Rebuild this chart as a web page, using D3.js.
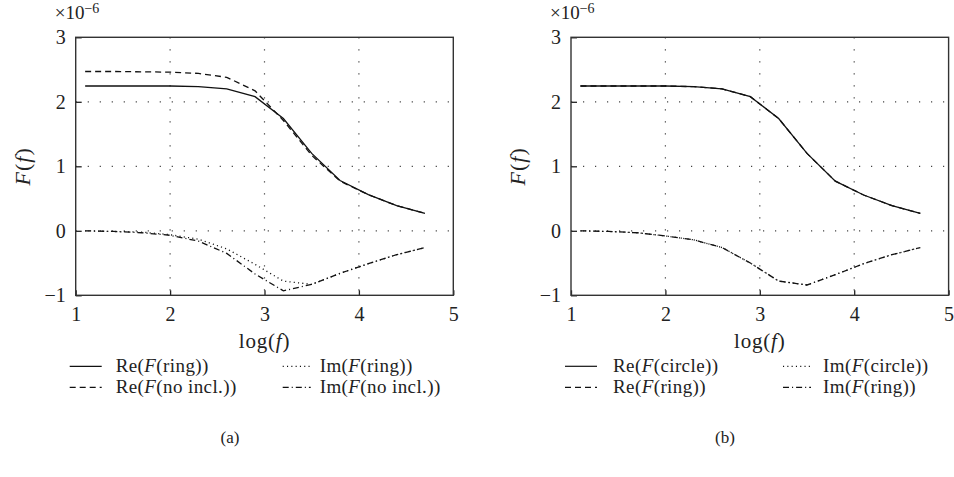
<!DOCTYPE html>
<html>
<head>
<meta charset="utf-8">
<script src="https://cdn.jsdelivr.net/npm/d3@7"></script>
<style>
  body { margin: 0; background: #fff; }
  svg { font-family: "Liberation Serif", "DejaVu Serif", serif; }
</style>
</head>
<body>
<div class="chart"></div>
<script>
// log(f) sample points, same for every curve
var logF = [1.1, 1.4, 1.7, 2.0, 2.3, 2.6, 2.9, 3.2, 3.5, 3.8, 4.1, 4.4, 4.7];

// panel (a), values in units of 1e-6
var reRing    = [2.245, 2.245, 2.245, 2.245, 2.235, 2.20, 2.08, 1.74, 1.20, 0.78, 0.56, 0.39, 0.27];
var imRing    = [0.0, -0.01, -0.02, -0.06, -0.13, -0.28, -0.52, -0.78, -0.83, -0.66, -0.51, -0.37, -0.26];
var reNoIncl  = [2.47, 2.47, 2.465, 2.46, 2.44, 2.38, 2.17, 1.71, 1.17, 0.77, 0.56, 0.39, 0.27];
var imNoIncl  = [0.0, -0.01, -0.03, -0.07, -0.16, -0.35, -0.67, -0.93, -0.83, -0.66, -0.51, -0.37, -0.26];

// panel (b)
var reCircle  = [2.245, 2.245, 2.245, 2.245, 2.235, 2.20, 2.08, 1.74, 1.20, 0.77, 0.555, 0.39, 0.27];
var imCircle  = [0.0, -0.01, -0.03, -0.08, -0.14, -0.26, -0.50, -0.78, -0.84, -0.68, -0.51, -0.37, -0.26];
var reRingB   = [2.245, 2.245, 2.245, 2.245, 2.235, 2.20, 2.08, 1.74, 1.20, 0.77, 0.555, 0.39, 0.27];
var imRingB   = [0.0, -0.01, -0.03, -0.08, -0.14, -0.26, -0.50, -0.78, -0.84, -0.68, -0.51, -0.37, -0.26];

var xTicks = [1, 2, 3, 4, 5];
var yTicks = [-1, 0, 1, 2, 3];

var Width = 954, Height = 477;
var plotW = 377.6, plotH = 258;

// line styles
var styles = {
  solid:   null,
  dashed:  "6,4",
  dotted:  "1.1,3.2",
  dashdot: "6,3,1.1,3"
};

var svg = d3.select(".chart").append("svg")
    .attr("width", Width)
    .attr("height", Height);

// italic helper: parts is list of [text, italic]
function richText(sel, parts) {
  parts.forEach(function(p) {
    sel.append("tspan")
      .style("font-style", p[1] ? "italic" : "normal")
      .text(p[0]);
  });
}

function drawPanel(left, top, series, legendCols, caption) {
  var g = svg.append("g")
      .attr("transform", "translate(" + left + "," + top + ")");

  var x = d3.scaleLinear().domain([1, 5]).range([0, plotW]);
  var y = d3.scaleLinear().domain([-1, 3]).range([plotH, 0]);

  // dotted grid
  g.selectAll(".gx").data([2, 3, 4]).enter().append("line")
    .attr("x1", d => x(d)).attr("x2", d => x(d))
    .attr("y1", 0).attr("y2", plotH)
    .attr("stroke", "#444").attr("stroke-width", 1.2)
    .attr("stroke-dasharray", "1.2,10.8");
  g.selectAll(".gy").data([0, 1, 2]).enter().append("line")
    .attr("x1", 0).attr("x2", plotW)
    .attr("y1", d => y(d)).attr("y2", d => y(d))
    .attr("stroke", "#444").attr("stroke-width", 1.2)
    .attr("stroke-dasharray", "1.2,10.8");

  // axes with inward ticks
  var xAxis = g.append("g")
    .attr("transform", "translate(0," + plotH + ")")
    .call(d3.axisBottom(x).tickValues(xTicks).tickSizeInner(-5).tickSizeOuter(0).tickPadding(12)
      .tickFormat(d3.format("d")));
  var yAxis = g.append("g")
    .call(d3.axisLeft(y).tickValues(yTicks).tickSizeInner(-6).tickSizeOuter(0).tickPadding(10)
      .tickFormat(d => d < 0 ? "\u2212" + Math.abs(d) : d));
  [xAxis, yAxis].forEach(function(a) {
    a.select(".domain").remove();
    a.selectAll("line").attr("stroke", "#222").attr("stroke-width", 1.3);
    a.selectAll("text").attr("font-size", 20).attr("fill", "#222")
      .attr("font-family", "Liberation Serif");
  });

  // frame
  g.append("rect")
    .attr("width", plotW).attr("height", plotH)
    .attr("fill", "none").attr("stroke", "#333").attr("stroke-width", 1.4);

  // curves
  var line = d3.line()
    .x(function(d) { return x(d[0]); })
    .y(function(d) { return y(d[1]); });

  series.forEach(function(s) {
    g.append("path")
      .datum(logF.map(function(v, i) { return [v, s.values[i]]; }))
      .attr("fill", "none")
      .attr("stroke", "#111")
      .attr("stroke-width", 1.3)
      .attr("stroke-dasharray", styles[s.style])
      .attr("d", line);
  });

  // exponent label
  var ex = g.append("text")
    .attr("x", -21).attr("y", -18)
    .attr("font-size", 19).attr("fill", "#222");
  ex.append("tspan").text("\u00d710");
  ex.append("tspan").attr("dy", -6).attr("font-size", 14).text("\u22126");

  // y label
  var yl = g.append("text")
    .attr("transform", "translate(-46," + (plotH / 2) + ") rotate(-90)")
    .attr("text-anchor", "middle")
    .attr("font-size", 22).attr("letter-spacing", 1).attr("fill", "#222");
  richText(yl, [["F", true], ["(", false], ["f", true], [")", false]]);

  // x label
  var xl = g.append("text")
    .attr("x", plotW / 2).attr("y", plotH + 53)
    .attr("text-anchor", "middle")
    .attr("font-size", 21).attr("letter-spacing", 0.8).attr("fill", "#222");
  richText(xl, [["log(", false], ["f", true], [")", false]]);

  // legend, two rows x two columns
  series.forEach(function(s, i) {
    var col = legendCols[i % 2];
    var ry = plotH + 71 + Math.floor(i / 2) * 21;
    g.append("line")
      .attr("x1", col.lineX).attr("x2", col.lineX + col.lineW)
      .attr("y1", ry).attr("y2", ry)
      .attr("stroke", "#111").attr("stroke-width", 1.2)
      .attr("stroke-dasharray", styles[s.style]);
    var t = g.append("text")
      .attr("x", col.textX).attr("y", ry + 6)
      .attr("font-size", 19).attr("letter-spacing", 0.4).attr("fill", "#222");
    richText(t, s.label);
  });

  g.append("text")
    .attr("x", caption.x).attr("y", plotH + 148)
    .attr("text-anchor", "middle")
    .attr("font-size", 17).attr("fill", "#222")
    .text(caption.text);
}

drawPanel(75.7, 37.3, [
  { values: reRing,   style: "solid",   label: [["Re(", false], ["F", true], ["(ring))", false]] },
  { values: imRing,   style: "dotted",  label: [["Im(", false], ["F", true], ["(ring))", false]] },
  { values: reNoIncl, style: "dashed",  label: [["Re(", false], ["F", true], ["(no incl.))", false]] },
  { values: imNoIncl, style: "dashdot", label: [["Im(", false], ["F", true], ["(no incl.))", false]] }
], [ { lineX: -6, lineW: 32, textX: 40 }, { lineX: 207, lineW: 28, textX: 244 } ],
   { x: 154.3, text: "(a)" });

drawPanel(571, 37.3, [
  { values: reCircle, style: "solid",   label: [["Re(", false], ["F", true], ["(circle))", false]] },
  { values: imCircle, style: "dotted",  label: [["Im(", false], ["F", true], ["(circle))", false]] },
  { values: reRingB,  style: "dashed",  label: [["Re(", false], ["F", true], ["(ring))", false]] },
  { values: imRingB,  style: "dashdot", label: [["Im(", false], ["F", true], ["(ring))", false]] }
], [ { lineX: -6, lineW: 32, textX: 42 }, { lineX: 212, lineW: 28, textX: 252 } ],
   { x: 154, text: "(b)" });
</script>
</body>
</html>
